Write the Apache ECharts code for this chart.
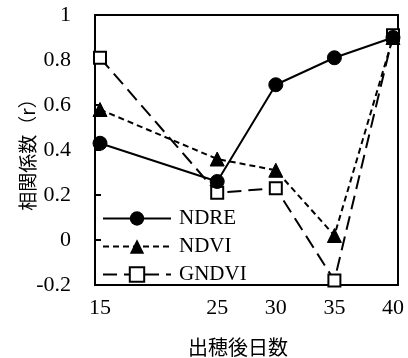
<!DOCTYPE html>
<html>
<head>
<meta charset="utf-8">
<script src="https://cdn.jsdelivr.net/npm/echarts@6/dist/echarts.min.js"></script>
<style>
  html, body { margin: 0; padding: 0; background: #fff; }
  #chart { width: 408px; height: 358px; }
</style>
</head>
<body>
<div id="chart"></div>
<script>
// Days after heading and correlation coefficients per index
const days = [15, 25, 30, 35, 40];
const dayTicks = [15, 25, 30, 35, 40];
const ndre = [0.43, 0.26, 0.69, 0.81, 0.90];
const ndvi = [0.58, 0.36, 0.31, 0.02, 0.90];
const gndvi = [0.81, 0.21, 0.23, -0.18, 0.91];

const pairs = (vals) => days.map((d, i) => [d, vals[i]]);

const serif = 'Liberation Serif, Times New Roman, serif';
const cjk = 'Noto Sans CJK JP, sans-serif';

const chart = echarts.init(document.getElementById('chart'), null, { renderer: 'canvas' });

chart.setOption({
  animation: false,
  backgroundColor: '#fff',
  grid: {
    left: 95, right: 10, top: 15, bottom: 73,
    containLabel: false,
    outerBoundsMode: 'none',
    show: true, borderColor: '#000', borderWidth: 2
  },
  legend: {
    orient: 'vertical',
    left: 97, top: 203,
    itemWidth: 68, itemHeight: 18, itemGap: 7,
    data: ['NDRE', 'NDVI', 'GNDVI'],
    textStyle: { fontFamily: serif, fontSize: 21, color: '#000', padding: [0, 0, 0, 3] }
  },
  xAxis: {
    type: 'value',
    min: 14.573, max: 40.427,
    name: '出穂後日数',
    nameLocation: 'middle',
    nameGap: 52,
    nameMoveOverlap: false,
    nameTextStyle: { fontFamily: cjk, fontSize: 20, color: '#000', padding: [0, 17, 0, 0] },
    axisLine: { show: true, onZero: false, lineStyle: { color: '#000', width: 2 } },
    axisTick: { show: false },
    splitLine: { show: false },
    axisLabel: {
      customValues: dayTicks,
      fontFamily: serif, fontSize: 22, color: '#000', margin: 12
    }
  },
  yAxis: {
    type: 'value',
    min: -0.2, max: 1, interval: 0.2,
    name: '相関係数（r）',
    nameLocation: 'middle',
    nameGap: 58,
    nameMoveOverlap: false,
    nameTextStyle: { fontFamily: cjk, fontSize: 19, color: '#000' },
    axisLine: { show: true, onZero: false, lineStyle: { color: '#000', width: 2 } },
    axisTick: { show: true, inside: true, length: 6, lineStyle: { color: '#000', width: 2 } },
    splitLine: { show: false },
    axisLabel: { fontFamily: serif, fontSize: 22, color: '#000', margin: 24 }
  },
  series: [
    {
      name: 'NDRE', type: 'line', z: 4,
      data: pairs(ndre),
      symbol: 'circle', symbolSize: 14,
      lineStyle: { color: '#000', width: 2, type: 'solid' },
      itemStyle: { color: '#000', borderColor: '#000' }
    },
    {
      name: 'NDVI', type: 'line', z: 3,
      data: pairs(ndvi),
      symbol: 'triangle', symbolSize: 14,
      lineStyle: { color: '#000', width: 2, type: [6, 4] },
      itemStyle: { color: '#000', borderColor: '#000' }
    },
    {
      name: 'GNDVI', type: 'line', z: 2,
      data: pairs(gndvi),
      symbol: 'rect', symbolSize: 12,
      lineStyle: { color: '#000', width: 2, type: [14, 7] },
      itemStyle: { color: '#fff', borderColor: '#000', borderWidth: 2 }
    }
  ]
});
</script>
</body>
</html>
